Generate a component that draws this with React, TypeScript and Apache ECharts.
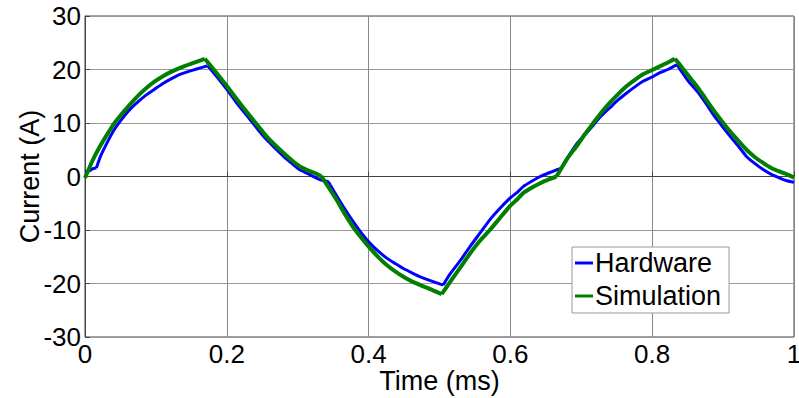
import React, { useEffect, useRef } from "react";
import * as echarts from "echarts";

const xTicks = [0, 0.2, 0.4, 0.6, 0.8, 1];
const yTicks = [-30, -20, -10, 0, 10, 20, 30];

const hardwareT = [
  0, 0.005, 0.012, 0.016, 0.022, 0.03, 0.04, 0.05, 0.063, 0.075, 0.087, 0.1, 0.11, 0.122, 0.134, 0.15, 0.165, 0.173,
  0.18, 0.19, 0.2, 0.215, 0.233, 0.245, 0.256, 0.268, 0.28, 0.292, 0.303, 0.315, 0.325, 0.332, 0.338, 0.343, 0.346,
  0.355, 0.366, 0.378, 0.39, 0.402, 0.414, 0.426, 0.438, 0.449, 0.461, 0.473, 0.49, 0.505,
  0.515, 0.53, 0.543, 0.557, 0.571, 0.585, 0.599, 0.61, 0.618, 0.63, 0.642, 0.655, 0.665, 0.672, 0.676,
  0.68, 0.693, 0.705, 0.717, 0.728, 0.74, 0.752, 0.764, 0.776, 0.787, 0.8, 0.811, 0.822, 0.835,
  0.842, 0.85, 0.863, 0.875, 0.886, 0.898, 0.91, 0.922, 0.933, 0.945, 0.957, 0.968, 0.98, 0.99, 1.0,
];
const hardwareI = [
  0.8, 1.0, 1.5, 1.6, 3.8, 6.0, 8.5, 10.4, 12.5, 14.0, 15.3, 16.5, 17.4, 18.3, 19.1, 19.8, 20.4, 20.7,
  19.6, 18.0, 16.3, 13.6, 10.6, 8.6, 6.9, 5.3, 3.75, 2.4, 1.25, 0.5, -0.2, -0.6, -0.8, -1.0, -1.6,
  -3.6, -6.0, -8.4, -10.6, -12.5, -14.0, -15.3, -16.3, -17.2, -18.0, -18.75, -19.6, -20.3,
  -18.2, -15.6, -13.1, -10.6, -8.1, -6.0, -4.1, -2.9, -1.9, -0.9, 0.0, 0.7, 1.25, 1.6, 2.5,
  3.4, 6.0, 7.8, 9.6, 11.3, 12.8, 14.3, 15.6, 16.8, 17.8, 18.6, 19.4, 20.0, 20.9,
  19.5, 18.0, 16.0, 13.8, 11.6, 9.5, 7.5, 5.6, 3.75, 2.4, 1.25, 0.4, -0.3, -0.8, -1.1,
];
// times where the hardware waveform switches (sharp corners)
const hardwareCorners = [0.016, 0.173, 0.346, 0.505, 0.676, 0.835];

const simulationT = [
  0, 0.01, 0.021, 0.03, 0.04, 0.05, 0.063, 0.075, 0.087, 0.1, 0.11, 0.122, 0.134, 0.15, 0.169,
  0.181, 0.19, 0.2, 0.215, 0.233, 0.245, 0.256, 0.268, 0.28, 0.292, 0.303, 0.315, 0.325, 0.333,
  0.345, 0.355, 0.366, 0.378, 0.39, 0.402, 0.414, 0.426, 0.438, 0.449, 0.461, 0.473, 0.488, 0.503,
  0.515, 0.53, 0.543, 0.557, 0.571, 0.585, 0.599, 0.61, 0.618, 0.63, 0.642, 0.655, 0.665,
  0.68, 0.693, 0.705, 0.717, 0.728, 0.74, 0.752, 0.764, 0.776, 0.787, 0.8, 0.811, 0.822, 0.832,
  0.839, 0.85, 0.863, 0.875, 0.886, 0.898, 0.91, 0.922, 0.933, 0.945, 0.957, 0.968, 0.98, 0.99, 1.0,
];
const simulationI = [
  -0.3, 2.8, 5.6, 7.6, 9.7, 11.4, 13.4, 15.1, 16.6, 17.9, 18.75, 19.6, 20.3, 21.1, 22.0,
  20.1, 18.6, 16.9, 14.3, 11.25, 9.3, 7.5, 5.9, 4.4, 3.0, 1.9, 1.1, 0.6, 0.1,
  -2.3, -4.4, -6.9, -9.4, -11.5, -13.4, -15.1, -16.6, -17.8, -18.75, -19.6, -20.3, -21.1, -22.0,
  -19.7, -16.9, -14.4, -12.0, -10.0, -7.8, -5.6, -4.2, -3.1, -2.1, -1.25, -0.5, 0.0,
  3.3, 5.6, 7.9, 10.0, 11.9, 13.75, 15.4, 16.9, 18.1, 19.1, 19.9, 20.6, 21.3, 22.0,
  20.9, 19.0, 16.9, 14.6, 12.5, 10.4, 8.4, 6.6, 5.0, 3.6, 2.5, 1.6, 0.9, 0.4, -0.2,
];
const simulationCorners = [0.169, 0.333, 0.503, 0.665, 0.832];

const seriesNames = ["Hardware", "Simulation"];
const seriesColors = ["#0000FF", "#007F00"];

function splitSegments(ts: number[], vs: number[], corners: number[]) {
  const segs: number[][][] = [];
  let cur: number[][] = [];
  ts.forEach((t, i) => {
    cur.push([t, vs[i]]);
    if (corners.includes(t)) {
      segs.push(cur);
      cur = [[t, vs[i]]];
    }
  });
  if (cur.length > 1) segs.push(cur);
  return segs;
}

export default function App() {
  const ref = useRef<HTMLDivElement>(null);
  useEffect(() => {
    if (!ref.current) return;
    const chart = echarts.init(ref.current, null, { renderer: "svg" });
    const font = "Liberation Sans, Arial, sans-serif";
    const hwSegs = splitSegments(hardwareT, hardwareI, hardwareCorners);
    const simSegs = splitSegments(simulationT, simulationI, simulationCorners);
    const mk = (name: string, color: string, width: number, z: number) => (data: number[][]) => ({
      name,
      type: "line",
      data,
      showSymbol: false,
      symbol: "none",
      smooth: 0.2,
      color,
      lineStyle: { color, width, join: "round" },
      z,
    });
    chart.setOption({
      animation: false,
      backgroundColor: "#ffffff",
      grid: {
        left: 85,
        right: 5,
        top: 16,
        bottom: 61,
        show: true,
        borderColor: "#444",
        borderWidth: 1,
        backgroundColor: "transparent",
        outerBoundsMode: "none",
        containLabel: false,
      },
      legend: {
        data: seriesNames,
        orient: "vertical",
        left: 572,
        top: 247,
        padding: [1, 8, 2, 3],
        itemGap: 3,
        itemWidth: 18,
        itemHeight: 3,
        icon: "rect",
        backgroundColor: "#ffffff",
        borderColor: "#999",
        borderWidth: 1,
        borderRadius: 0,
        textStyle: { fontFamily: font, fontSize: 27, color: "#000", lineHeight: 30, padding: [0, 0, 0, -3] },
      },
      xAxis: {
        type: "value",
        min: 0,
        max: 1,
        interval: 0.2,
        name: "Time (ms)",
        nameLocation: "middle",
        nameGap: 30,
        nameMoveOverlap: false,
        nameTextStyle: { fontFamily: font, fontSize: 27, color: "#000", lineHeight: 27 },
        axisLine: { show: true, lineStyle: { color: "#444", width: 1 } },
        axisTick: { show: true, inside: true, length: 5, lineStyle: { color: "#444" } },
        axisLabel: {
          fontFamily: font,
          fontSize: 26,
          color: "#000",
          margin: 4,
          showMinLabel: true,
          showMaxLabel: true,
          formatter: (v: number) => (xTicks.includes(Math.round(v * 10) / 10) ? String(Math.round(v * 10) / 10) : ""),
        },
        splitLine: { show: true, lineStyle: { color: "#888", width: 1 } },
      },
      yAxis: {
        type: "value",
        min: -30,
        max: 30,
        interval: 10,
        name: "Current (A)",
        nameLocation: "middle",
        nameGap: 42,
        nameMoveOverlap: false,
        nameTextStyle: { fontFamily: font, fontSize: 27, color: "#000" },
        axisLine: { show: true, lineStyle: { color: "#444", width: 1 } },
        axisTick: { show: true, inside: true, length: 5, lineStyle: { color: "#444" } },
        axisLabel: {
          fontFamily: font,
          fontSize: 26,
          color: "#000",
          margin: 4,
          showMinLabel: true,
          showMaxLabel: true,
          formatter: (v: number) => (yTicks.includes(v) ? String(v) : ""),
        },
        splitLine: { show: true, lineStyle: { color: "#999", width: 1 } },
      },
      series: [
        ...hwSegs.map(mk(seriesNames[0], seriesColors[0], 3, 2)),
        ...simSegs.map(mk(seriesNames[1], seriesColors[1], 4, 3)),
      ],
    });
    return () => chart.dispose();
  }, []);
  return (
    <div
      ref={ref}
      style={{ position: "fixed", left: 0, top: 0, width: 799, height: 398, background: "#fff" }}
    />
  );
}
